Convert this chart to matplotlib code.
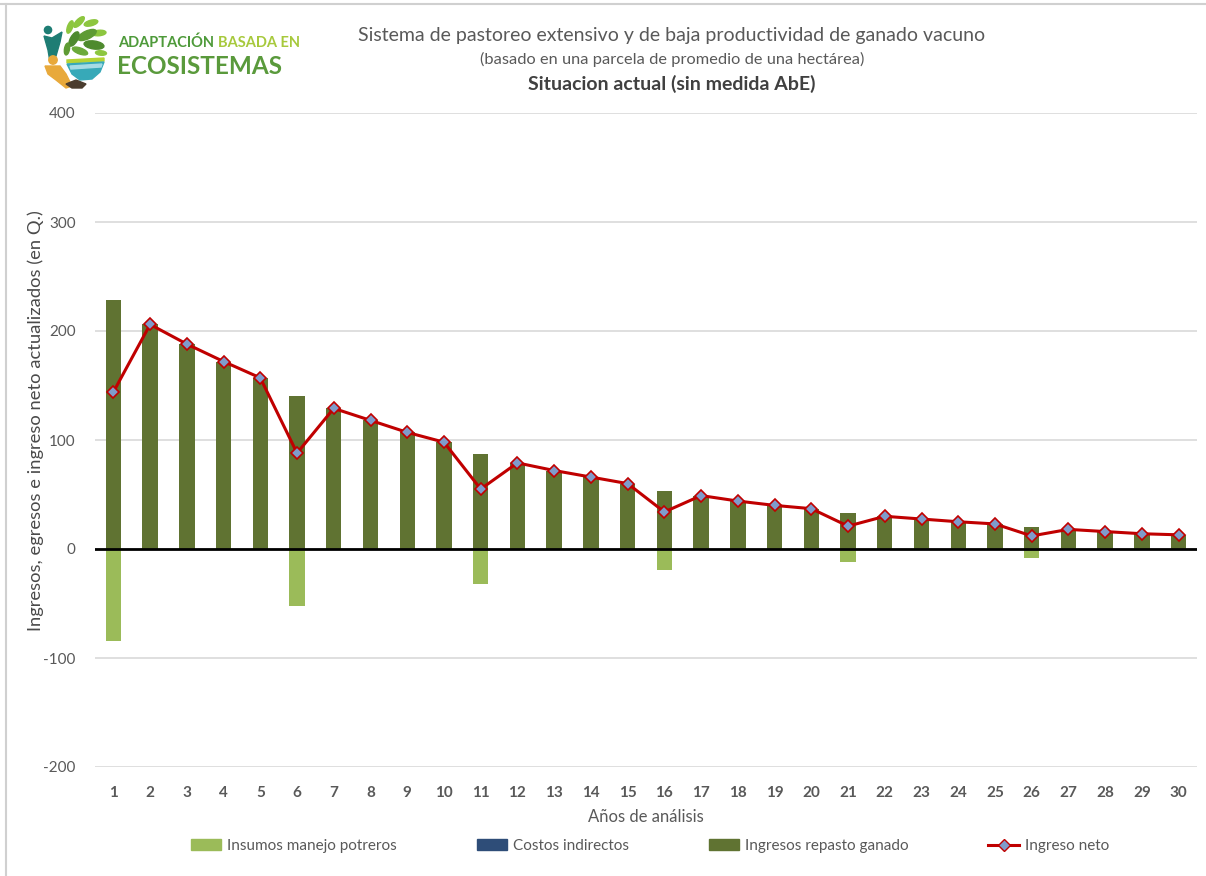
import matplotlib
matplotlib.use("Agg")
import matplotlib.pyplot as plt
from matplotlib.lines import Line2D
from matplotlib.patches import Ellipse, Circle, Patch, Polygon
import numpy as np

plt.rcParams['font.family'] = ['Lato', 'DejaVu Sans']
plt.rcParams['axes.unicode_minus'] = False

# Valores actualizados por año (Q.)
anios = list(range(1, 31))
insumos_potreros = [-84, 0, 0, 0, 0, -52, 0, 0, 0, 0, -32, 0, 0, 0, 0,
                    -19, 0, 0, 0, 0, -12, 0, 0, 0, 0, -8, 0, 0, 0, 0]
costos_indirectos = [0] * 30
ingresos_repasto = [228, 206, 188, 172, 157, 140, 129, 118, 107, 98,
                    87, 79, 72, 66, 60, 53, 49, 44, 40, 37,
                    33, 30, 27.5, 25, 23, 20, 18, 16, 14, 13]
ingreso_neto = [a + b + c for a, b, c in
                zip(insumos_potreros, costos_indirectos, ingresos_repasto)]

W, H = 1206, 876
fig = plt.figure(figsize=(W / 100, H / 100), dpi=100)
ax = fig.add_axes([95 / W, 1 - 767 / H, (1197 - 95) / W, (767 - 113) / H])

gris = '#595959'
ancho = 0.42
ax.bar(anios, insumos_potreros, width=ancho, color='#9BBB59', zorder=2,
       label='Insumos manejo potreros')
ax.bar(anios, costos_indirectos, width=ancho, color='#2E4D78', zorder=2,
       label='Costos indirectos')
ax.bar(anios, ingresos_repasto, width=ancho, color='#607332', zorder=2,
       label='Ingresos repasto ganado')
ax.axhline(0, color='black', lw=2, zorder=3)
ax.plot(anios, ingreso_neto, color='#C00000', lw=2.2, marker='D', ms=6,
        mfc='#7F9CCB', mec='#C00000', mew=1.2, zorder=4, label='Ingreso neto')

ax.set_xlim(0.5, 30.5)
ax.set_ylim(-200, 400)
ax.set_yticks(range(-200, 401, 100))
ax.set_xticks(anios)
ax.grid(axis='y', color='#D9D9D9', lw=1.2, zorder=0)
ax.set_axisbelow(True)
for s in ax.spines.values():
    s.set_visible(False)
ax.tick_params(length=0)
ax.tick_params(axis='y', labelsize=11, labelcolor=gris, pad=14)
ax.tick_params(axis='x', labelsize=11, labelcolor=gris, pad=14)
for t in ax.get_xticklabels():
    t.set_fontweight('bold')

ax.set_xlabel('Años de análisis', fontsize=12, color=gris, labelpad=6)
fig.text(36 / W, 1 - 421 / H, 'Ingresos, egresos e ingreso neto actualizados (en Q.)',
         rotation=90, ha='center', va='center', fontsize=13.2, color='#4A4A4A')

# Títulos
cx = 672 / W
fig.text(cx, 1 - 36 / H, 'Sistema de pastoreo extensivo y de baja productividad de ganado vacuno',
         ha='center', va='center', fontsize=14, color='#595959')
fig.text(cx, 1 - 59 / H, '(basado en una parcela de promedio de una hectárea)',
         ha='center', va='center', fontsize=11.8, color='#595959')
fig.text(cx, 1 - 84 / H, 'Situacion actual (sin medida AbE)',
         ha='center', va='center', fontsize=14, color='#404040', fontweight='bold')

# Leyenda
handles = [Patch(color='#9BBB59'), Patch(color='#2E4D78'), Patch(color='#607332'),
           Line2D([], [], color='#C00000', lw=2.2, marker='D', ms=6,
                  mfc='#7F9CCB', mec='#C00000')]
labels = ['Insumos manejo potreros', 'Costos indirectos',
          'Ingresos repasto ganado', 'Ingreso neto']
fig.legend(handles, labels, loc='center', bbox_to_anchor=(650 / W, 1 - 846 / H),
           ncol=4, frameon=False, fontsize=11, labelcolor=gris,
           handlelength=2.0, handleheight=0.7, handletextpad=0.4, columnspacing=5.2)

# Marco exterior
fig.add_artist(Line2D([0, 1], [1 - 4 / H, 1 - 4 / H], color='#D0D0D0', lw=1.5,
                      transform=fig.transFigure))
fig.add_artist(Line2D([6 / W, 6 / W], [0, 1 - 4 / H], color='#D0D0D0', lw=1.5,
                      transform=fig.transFigure))

# Logotipo (coordenadas en píxeles, y hacia abajo)
lg = fig.add_axes([38 / W, 1 - 94 / H, 72 / W, 80 / H])
lg.set_xlim(38, 110)
lg.set_ylim(94, 14)
lg.axis('off')
hojas = [(70, 27, 13, 5, -70, '#8DC63F'), (79, 22, 14, 5.5, -45, '#8DC63F'),
         (91, 23, 14, 5.5, -15, '#8DC63F'), (99, 33, 14, 5.5, -5, '#8DC63F'),
         (87, 35, 20, 8, -25, '#5E9B34'), (74, 39, 16, 7, -60, '#4E8A2E'),
         (94, 45, 20, 8, 8, '#4E8A2E'), (80, 51, 16, 6, 20, '#6BAA3A'),
         (101, 53, 11, 4.5, 5, '#8DC63F'), (67, 49, 12, 5, -80, '#5E9B34')]
for x, y, w, h, a, c in hojas:
    lg.add_patch(Ellipse((x, y), w, h, angle=a, color=c))
lg.add_patch(Circle((48, 30), 3.6, color='#1E7D74'))
lg.add_patch(Polygon([(44, 36), (52, 38), (62, 32), (60, 42), (56, 56),
                      (50, 62), (48, 50)], color='#1E7D74'))
lg.add_patch(Circle((53, 60), 4.2, color='#E8A93B'))
lg.add_patch(Polygon([(45, 66), (60, 66), (66, 74), (72, 86), (66, 88),
                      (56, 80), (48, 74)], color='#E8A93B'))
lg.add_patch(Polygon([(67, 60), (104, 58), (104, 61), (67, 63)], color='#B5D334'))
lg.add_patch(Polygon([(67, 64), (104, 62), (100, 72), (92, 79), (80, 80),
                      (72, 74)], color='#37A9B8'))
lg.add_patch(Polygon([(70, 66), (102, 64), (101, 67), (71, 69)], color='#A6DBE5'))
lg.add_patch(Polygon([(66, 84), (76, 80), (86, 84), (82, 88), (72, 88)],
                     color='#4A3C2E'))

t1 = fig.text(118 / W, 1 - 43 / H, 'ADAPTACIÓN', fontsize=10.5, fontweight='bold',
              color='#4E9A3A', va='center', ha='left')
bb = t1.get_window_extent(renderer=fig.canvas.get_renderer())
fig.text((bb.x1 + 4) / W, 1 - 43 / H, 'BASADA EN', fontsize=10.5, fontweight='bold',
         color='#A7C93C', va='center', ha='left')
fig.text(117 / W, 1 - 66 / H, 'ECOSISTEMAS', fontsize=17.5, fontweight='bold',
         color='#5A9A3C', va='center', ha='left')

fig.savefig('out.png', dpi=100)
